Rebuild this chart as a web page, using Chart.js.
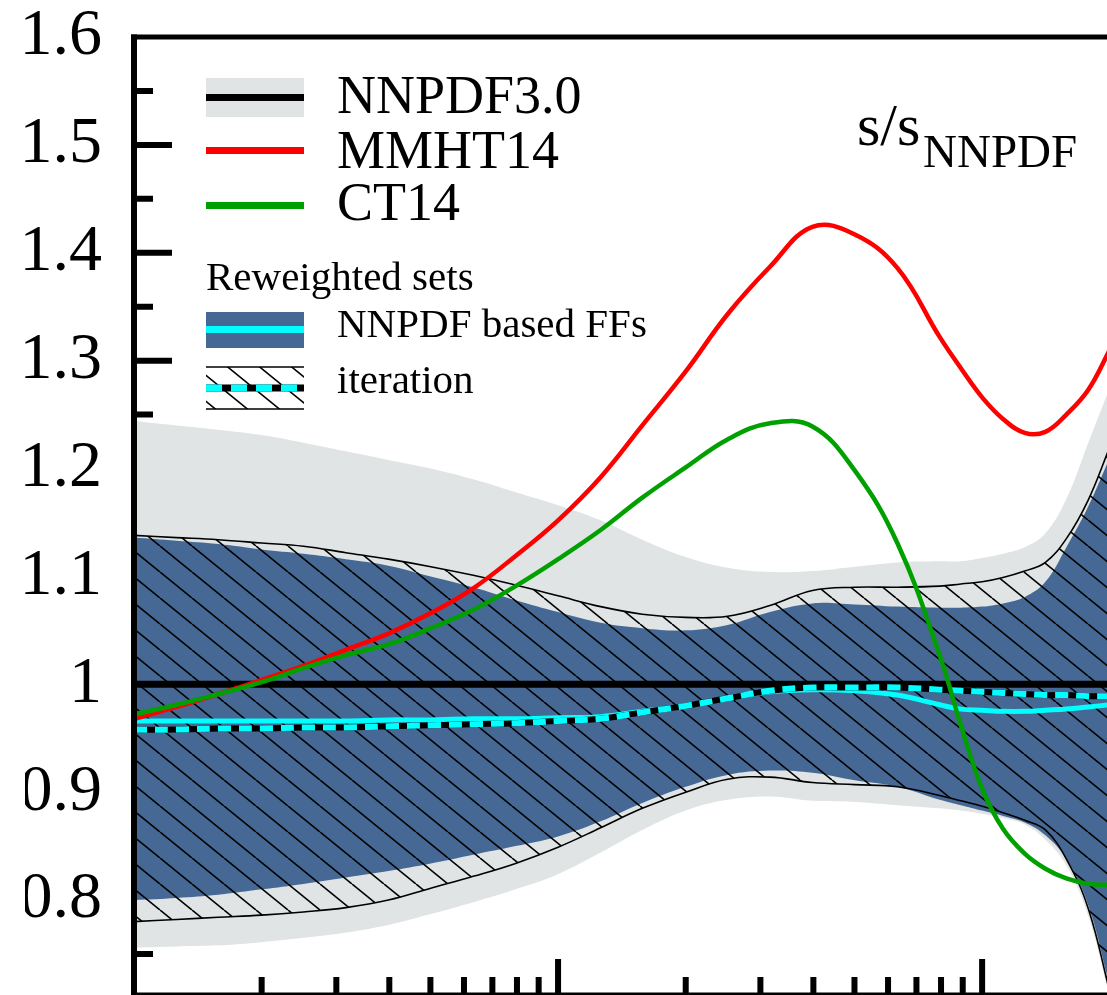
<!DOCTYPE html>
<html>
<head>
<meta charset="utf-8">
<script src="https://cdn.jsdelivr.net/npm/chart.js@4.4.1/dist/chart.umd.min.js"></script>
<style>
  html, body { margin: 0; padding: 0; background: #fff; overflow: hidden; }
  #wrap { width: 1107px; height: 995px; }
  canvas { display: block; }
</style>
</head>
<body>
<div id="wrap"><canvas id="ratioChart" width="1107" height="995"></canvas></div>
<script>
// momentum fraction x (log grid shared by every curve)
const xValues = [0.001, 0.00126, 0.00158, 0.002, 0.00251, 0.00316, 0.00398, 0.00501, 0.00631, 0.00794,
                 0.01, 0.0126, 0.0158, 0.02, 0.0251, 0.0316, 0.0398, 0.0501, 0.0631, 0.0794,
                 0.0891, 0.1, 0.112, 0.126, 0.141, 0.158, 0.178, 0.2];

// NNPDF3.0 uncertainty band (ratio to NNPDF central)
const nnpdfUpper = [1.244, 1.240, 1.236, 1.231, 1.224, 1.216, 1.208, 1.200, 1.190, 1.178,
                    1.166, 1.152, 1.134, 1.118, 1.108, 1.104, 1.105, 1.109, 1.113, 1.114,
                    1.114, 1.117, 1.121, 1.127, 1.140, 1.172, 1.224, 1.275];
const nnpdfLower = [0.756, 0.757, 0.758, 0.761, 0.765, 0.770, 0.777, 0.787, 0.798, 0.810,
                    0.824, 0.844, 0.865, 0.883, 0.893, 0.896, 0.892, 0.891, 0.888, 0.885,
                    0.883, 0.880, 0.876, 0.870, 0.856, 0.832, 0.785, 0.710];
const nnpdfX = [0.001, 0.2];
const nnpdfCentral = [1.0, 1.0];

// reweighted with NNPDF based FFs
const ffUpper = [1.136, 1.133, 1.130, 1.125, 1.121, 1.116, 1.110, 1.100, 1.090, 1.078,
                 1.067, 1.057, 1.052, 1.050, 1.055, 1.067, 1.075, 1.074, 1.072, 1.071,
                 1.071, 1.072, 1.075, 1.081, 1.095, 1.127, 1.165, 1.210];
const ffLower = [0.800, 0.802, 0.805, 0.810, 0.815, 0.821, 0.827, 0.834, 0.842, 0.850,
                 0.859, 0.873, 0.890, 0.905, 0.916, 0.920, 0.918, 0.911, 0.905, 0.893,
                 0.888, 0.883, 0.878, 0.872, 0.860, 0.838, 0.795, 0.720];
const ffCentral = [0.966, 0.966, 0.966, 0.966, 0.966, 0.966, 0.967, 0.967, 0.968, 0.968,
                   0.969, 0.970, 0.975, 0.980, 0.987, 0.993, 0.995, 0.994, 0.990, 0.981,
                   0.977, 0.976, 0.975, 0.975, 0.976, 0.977, 0.979, 0.981];

// reweighted, iteration
const iterUpper = [1.138, 1.136, 1.134, 1.131, 1.128, 1.122, 1.116, 1.109, 1.101, 1.092,
                   1.082, 1.072, 1.065, 1.062, 1.063, 1.073, 1.087, 1.090, 1.090, 1.091,
                   1.093, 1.095, 1.099, 1.105, 1.113, 1.135, 1.171, 1.220];
const iterLower = [0.780, 0.782, 0.784, 0.786, 0.789, 0.793, 0.800, 0.811, 0.822, 0.834,
                   0.849, 0.867, 0.885, 0.900, 0.912, 0.914, 0.909, 0.907, 0.905, 0.897,
                   0.892, 0.887, 0.881, 0.874, 0.865, 0.838, 0.792, 0.715];
const iterCentral = [0.958, 0.958, 0.959, 0.959, 0.960, 0.960, 0.961, 0.962, 0.963, 0.964,
                     0.966, 0.968, 0.974, 0.980, 0.987, 0.994, 0.997, 0.997, 0.997, 0.995,
                     0.994, 0.993, 0.992, 0.991, 0.990, 0.990, 0.989, 0.989];

// other global fits
const mmht14 = [0.968, 0.979, 0.991, 1.004, 1.017, 1.032, 1.047, 1.066, 1.089, 1.119,
                1.152, 1.192, 1.240, 1.290, 1.343, 1.387, 1.424, 1.417, 1.386, 1.322,
                1.293, 1.266, 1.246, 1.233, 1.234, 1.250, 1.273, 1.310];
const ct14 = [0.972, 0.981, 0.991, 1.002, 1.015, 1.027, 1.037, 1.052, 1.069, 1.091,
              1.116, 1.143, 1.173, 1.201, 1.227, 1.242, 1.239, 1.198, 1.131, 1.027,
              0.962, 0.903, 0.866, 0.843, 0.829, 0.820, 0.815, 0.814];

// axis ticks
const yTickValues = [0.8, 0.9, 1.0, 1.1, 1.2, 1.3, 1.4, 1.5, 1.6];
const yTickLabels = ['0.8', '0.9', '1', '1.1', '1.2', '1.3', '1.4', '1.5', '1.6'];
const yMajorTicks = [0.8, 0.9, 1.0, 1.1, 1.2, 1.3, 1.4, 1.5];
const yMinorTicks = [0.75, 0.85, 0.95, 1.05, 1.15, 1.25, 1.35, 1.45, 1.55];
const xMajorTicks = [0.01, 0.1];
const xMinorTicks = [0.002, 0.003, 0.004, 0.005, 0.006, 0.007, 0.008, 0.009,
                     0.02, 0.03, 0.04, 0.05, 0.06, 0.07, 0.08, 0.09];

const GREY = '#e0e4e4';
const BLUE = '#466894';
const CYAN = '#00ffff';
const SERIF = '"Liberation Serif", "Times New Roman", serif';

const canvas = document.getElementById('ratioChart');
const ctx = canvas.getContext('2d');

function makeHatch(w, h) {
    const tile = document.createElement('canvas');
    tile.width = w;
    tile.height = h;
    const g = tile.getContext('2d');
    g.strokeStyle = '#000';
    g.lineWidth = 1.6;
    g.beginPath();
    [-w, 0, w].forEach(dx => {
        g.moveTo(dx, 0);
        g.lineTo(dx + w, h);
    });
    g.stroke();
    return ctx.createPattern(tile, 'repeat');
}
const hatch = makeHatch(32, 26);

const pts = ys => xValues.map((x, i) => ({ x: x, y: ys[i] }));

// inward tick marks and the frame
const axisFrame = {
    id: 'axisFrame',
    beforeDatasetsDraw(chart) {
        const { ctx, chartArea: a, scales: { x, y } } = chart;
        ctx.save();
        ctx.strokeStyle = '#000';
        ctx.lineWidth = 6;
        ctx.beginPath();
        yMajorTicks.forEach(v => {
            const py = y.getPixelForValue(v);
            ctx.moveTo(a.left, py); ctx.lineTo(a.left + 38, py);
        });
        yMinorTicks.forEach(v => {
            const py = y.getPixelForValue(v);
            ctx.moveTo(a.left, py); ctx.lineTo(a.left + 19, py);
        });
        xMajorTicks.forEach(v => {
            const px = x.getPixelForValue(v);
            ctx.moveTo(px, a.bottom); ctx.lineTo(px, a.bottom - 36);
        });
        xMinorTicks.forEach(v => {
            const px = x.getPixelForValue(v);
            ctx.moveTo(px, a.bottom); ctx.lineTo(px, a.bottom - 18);
        });
        ctx.stroke();
        ctx.restore();
    },
    afterDatasetsDraw(chart) {
        const { ctx, chartArea: a } = chart;
        ctx.save();
        ctx.strokeStyle = '#000';
        ctx.lineWidth = 5;
        ctx.beginPath();
        ctx.moveTo(a.left - 3, a.top); ctx.lineTo(a.right, a.top);
        ctx.moveTo(a.left - 3, a.bottom); ctx.lineTo(a.right, a.bottom);
        ctx.stroke();
        ctx.lineWidth = 6;
        ctx.beginPath();
        ctx.moveTo(a.left, a.top - 2.5); ctx.lineTo(a.left, a.bottom);
        ctx.stroke();
        ctx.restore();
    }
};

// legend block and the s/s_NNPDF label
const legendBox = {
    id: 'legendBox',
    afterDraw(chart) {
        const c = chart.ctx;
        const x0 = 206, x1 = 304, tx = 337;
        c.save();

        c.fillStyle = GREY;
        c.fillRect(x0, 78, x1 - x0, 39);
        c.fillStyle = '#000';
        c.fillRect(x0, 94, x1 - x0, 7);
        c.fillStyle = '#ff0000';
        c.fillRect(x0, 147, x1 - x0, 7);
        c.fillStyle = '#00a000';
        c.fillRect(x0, 202, x1 - x0, 7);

        c.fillStyle = '#000';
        c.textAlign = 'left';
        c.textBaseline = 'alphabetic';
        c.font = '54px ' + SERIF;
        c.fillText('NNPDF3.0', tx, 113);
        c.fillText('MMHT14', tx, 168);
        c.fillText('CT14', tx, 220);

        c.font = '41px ' + SERIF;
        c.fillText('Reweighted sets', x0, 290);
        c.fillText('NNPDF based FFs', tx, 337);
        c.fillText('iteration', tx, 393);

        c.fillStyle = BLUE;
        c.fillRect(x0, 312, x1 - x0, 36);
        c.fillStyle = CYAN;
        c.fillRect(x0, 326, x1 - x0, 7);

        c.fillStyle = hatch;
        c.fillRect(x0, 367, x1 - x0, 42);
        c.strokeStyle = '#000';
        c.lineWidth = 1.6;
        c.beginPath();
        c.moveTo(x0, 367); c.lineTo(x1, 367);
        c.moveTo(x0, 409); c.lineTo(x1, 409);
        c.stroke();
        c.lineWidth = 7;
        c.beginPath();
        c.moveTo(x0, 388); c.lineTo(x1, 388);
        c.stroke();
        c.strokeStyle = CYAN;
        c.setLineDash([16, 9]);
        c.beginPath();
        c.moveTo(x0, 388); c.lineTo(x1, 388);
        c.stroke();
        c.setLineDash([]);

        c.fillStyle = '#000';
        c.font = '60px ' + SERIF;
        c.fillText('s/s', 857, 145);
        c.font = '47px ' + SERIF;
        c.fillText('NNPDF', 923, 167);

        // trim the left margin
        c.clearRect(0, 0, 25, chart.height);
        c.restore();
    }
};

const lineBase = { pointRadius: 0, tension: 0.4, fill: false };

new Chart(canvas, {
    type: 'line',
    data: {
        datasets: [
            { ...lineBase, label: 'NNPDF3.0 band', data: pts(nnpdfUpper), fill: '+1',
              backgroundColor: GREY, borderWidth: 0, order: 10 },
            { ...lineBase, label: 'NNPDF3.0 band low', data: pts(nnpdfLower),
              borderWidth: 0, order: 10 },
            { ...lineBase, label: 'NNPDF based FFs band', data: pts(ffUpper), fill: '+1',
              backgroundColor: BLUE, borderWidth: 0, order: 9 },
            { ...lineBase, label: 'NNPDF based FFs band low', data: pts(ffLower),
              borderWidth: 0, order: 9 },
            { ...lineBase, label: 'iteration band', data: pts(iterUpper), fill: '+1',
              backgroundColor: hatch, borderColor: '#000', borderWidth: 1.6, order: 8 },
            { ...lineBase, label: 'iteration band low', data: pts(iterLower),
              borderColor: '#000', borderWidth: 1.6, order: 8 },
            { ...lineBase, label: 'NNPDF3.0', data: nnpdfX.map((x, i) => ({ x: x, y: nnpdfCentral[i] })),
              borderColor: '#000', borderWidth: 7, order: 7 },
            { ...lineBase, label: 'NNPDF based FFs', data: pts(ffCentral),
              borderColor: CYAN, borderWidth: 5, order: 6 },
            { ...lineBase, label: 'iteration', data: pts(iterCentral),
              borderColor: '#000', borderWidth: 6, order: 5 },
            { ...lineBase, label: 'iteration dash', data: pts(iterCentral),
              borderColor: CYAN, borderWidth: 6, borderDash: [13, 8], order: 4 },
            { ...lineBase, label: 'MMHT14', data: pts(mmht14),
              borderColor: '#ff0000', borderWidth: 4.5, order: 3 },
            { ...lineBase, label: 'CT14', data: pts(ct14),
              borderColor: '#00a000', borderWidth: 4.5, order: 2 }
        ]
    },
    options: {
        responsive: false,
        animation: false,
        events: [],
        layout: { padding: { top: 37, left: 0, right: 0, bottom: 0 } },
        plugins: {
            legend: { display: false },
            tooltip: { enabled: false }
        },
        scales: {
            x: {
                type: 'logarithmic',
                min: 0.001,
                max: 0.197,
                display: false
            },
            y: {
                type: 'linear',
                min: 0.712,
                max: 1.6,
                grid: { display: false, drawTicks: false },
                border: { display: false },
                afterBuildTicks: scale => {
                    scale.ticks = yTickValues.map(v => ({ value: v }));
                },
                afterFit: scale => {
                    scale.width = 134;
                    scale.paddingTop = 0;
                    scale.paddingBottom = 0;
                },
                ticks: {
                    padding: 32,
                    color: '#000',
                    font: { family: SERIF, size: 66, lineHeight: 1 },
                    callback: (value, index) => yTickLabels[index]
                }
            }
        }
    },
    plugins: [axisFrame, legendBox]
});
</script>
</body>
</html>
